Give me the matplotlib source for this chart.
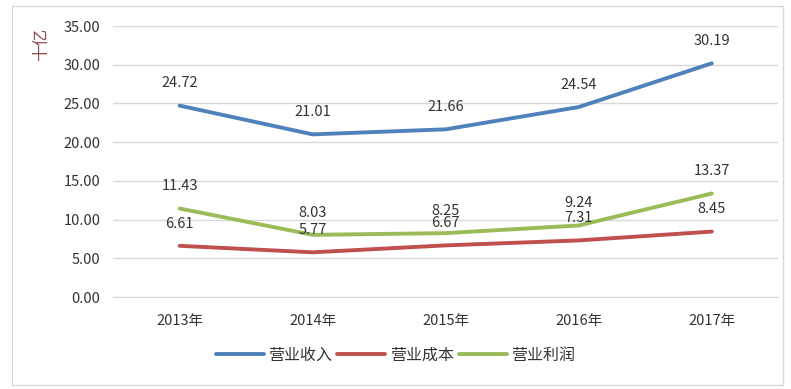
import matplotlib.pyplot as plt
from matplotlib.patches import Rectangle

plt.rcParams['font.family'] = ['Noto Sans CJK SC', 'DejaVu Sans']

years = ['2013年', '2014年', '2015年', '2016年', '2017年']
revenue = [24.72, 21.01, 21.66, 24.54, 30.19]
cost = [6.61, 5.77, 6.67, 7.31, 8.45]
profit = [11.43, 8.03, 8.25, 9.24, 13.37]
names = ['营业收入', '营业成本', '营业利润']
colors = ['#4F81BD', '#C0504D', '#9BBB59']

txt = '#333333'
fig = plt.figure(figsize=(7.91, 3.89), dpi=100)
ax = fig.add_axes([0.143, 0.2365, 0.841, 0.6965])

x = range(len(years))
for vals, name, c in zip([revenue, cost, profit], names, colors):
    ax.plot(x, vals, color=c, lw=2.8, label=name, solid_capstyle='round')
    for xi, v in zip(x, vals):
        ax.annotate(f'{v:.2f}', (xi, v), xytext=(0, 11), textcoords='offset points',
                    ha='center', va='bottom', fontsize=10.5, color=txt)

ax.set_xlim(-0.5, 4.5)
ax.set_ylim(0, 35)
ax.set_yticks(range(0, 36, 5))
ax.set_yticklabels([f'{v:.2f}' for v in range(0, 36, 5)])
ax.set_xticks(list(x))
ax.set_xticklabels(years)
ax.tick_params(length=0, labelsize=10.5, colors=txt)
ax.tick_params(axis='x', pad=12)
ax.tick_params(axis='y', pad=9)
ax.grid(axis='y', color='#D9D9D9', lw=1)
ax.set_axisbelow(True)
for s in ['top', 'right', 'left']:
    ax.spines[s].set_visible(False)
ax.spines['bottom'].set_color('#D9D9D9')

fig.text(0.053, 0.885, '十亿', rotation=90, ha='center', va='center',
         color='#8B4A4A', fontsize=12)

fig.legend(loc='center', bbox_to_anchor=(0.5, 0.087), ncol=3, frameon=False,
           fontsize=11.5, handlelength=3.0, handletextpad=0.3, columnspacing=0.3,
           labelcolor=txt)

fig.patches.append(Rectangle((0.015, 0.01), 0.975, 0.975, transform=fig.transFigure,
                             fill=False, edgecolor='#D9D9D9', lw=1))

fig.savefig('out.png', dpi=100)
